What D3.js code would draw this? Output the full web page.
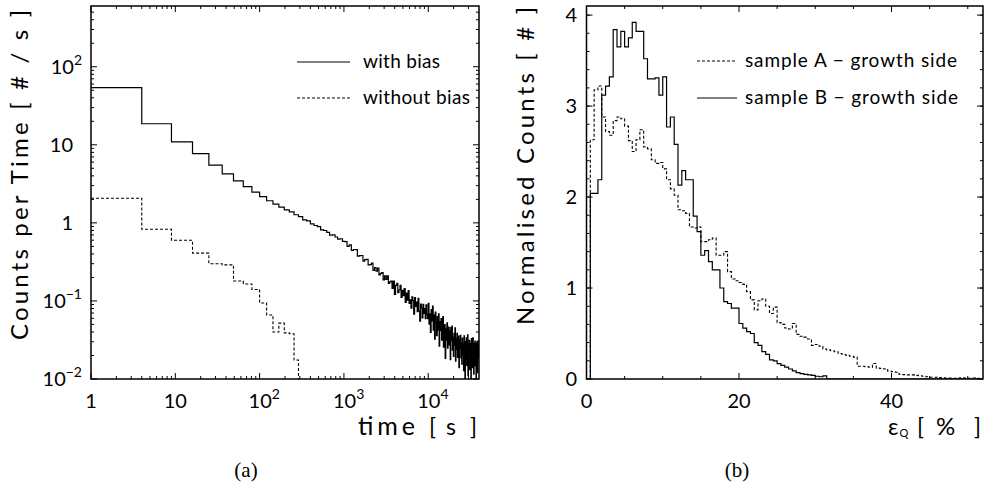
<!DOCTYPE html>
<html>
<head>
<meta charset="utf-8">
<script src="https://cdn.jsdelivr.net/npm/d3@7"></script>
<style>
body { margin: 0; background: #fff; }
text { font-family: Lato, "DejaVu Sans", sans-serif; fill: #000; }
</style>
</head>
<body>
<script>
// (a) counts per time, one value per bin [k^2, (k+1)^2] s, k = 1..199
var biasRate = [54, 18.6, 10.9, 7.7, 5.5, 4.25, 3.45, 2.92, 2.47, 2.17, 1.92, 1.74, 1.59, 1.47, 1.38, 1.27,
  1.20, 1.09, 1.06, 0.97, 0.925, 0.894, 0.814, 0.799, 0.754, 0.698, 0.702, 0.659, 0.619, 0.626, 0.579,
  0.575, 0.501, 0.523, 0.444, 0.456, 0.455, 0.376, 0.381, 0.382, 0.323, 0.339, 0.340, 0.289, 0.292, 0.305,
  0.247, 0.268, 0.241, 0.263, 0.216, 0.226, 0.231, 0.186, 0.210, 0.189, 0.209, 0.168, 0.175, 0.180,
  0.145, 0.179, 0.121, 0.158, 0.168, 0.128, 0.138, 0.158, 0.111, 0.137, 0.117, 0.144, 0.0961, 0.126, 0.102,
  0.136, 0.0933, 0.103, 0.0808, 0.113, 0.101, 0.0678, 0.110, 0.0854, 0.0967, 0.0731, 0.108, 0.0742, 0.0549,
  0.0909, 0.0812, 0.0606, 0.0905, 0.0691, 0.0799, 0.0594, 0.0891, 0.0672, 0.0594,
  0.0934, 0.0505, 0.0681, 0.0395, 0.0775, 0.0555, 0.0860, 0.0422, 0.0662, 0.0325, 0.0720, 0.0523, 0.0360,
  0.0631, 0.0422, 0.0683, 0.0263, 0.0542, 0.0417, 0.0592, 0.0314, 0.0463, 0.0628, 0.0256, 0.0399, 0.0496,
  0.0183, 0.0440, 0.0315, 0.0524, 0.0248, 0.0376, 0.0463, 0.0274, 0.0414, 0.0177, 0.0454, 0.0310, 0.0475,
  0.0234, 0.0345, 0.0195, 0.0384, 0.0269, 0.0451, 0.0169, 0.0333, 0.0239, 0.0384, 0.0189, 0.0287, 0.0354,
  0.0140, 0.0317, 0.0245, 0.0363, 0.0186, 0.0288, 0.0155,
  0.0335, 0.0206, 0.0282, 0.0128, 0.0356, 0.0228, 0, 0.0301, 0.0175, 0.0336, 0.0149, 0.0246, 0.0368, 0.0110,
  0.0279, 0.0206, 0.0313, 0.0132, 0.0287, 0.0226, 0.0095, 0.0330, 0.0176, 0.0257, 0.0140, 0.0336, 0.0208,
  0.0115, 0.0286, 0.0182, 0.0306, 0.0147, 0.0236, 0, 0.0290, 0.0155, 0.0265, 0.0121, 0.0307, 0.0185, 0.0238];
var noBiasRate = [2.07, 0.83, 0.60, 0.41, 0.30, 0.29, 0.18, 0.165, 0.14, 0.094, 0.066, 0.040, 0.052, 0.039, 0.038, 0.0175];

// (b) normalised counts, bins of 0.5 % starting at 0
var sampleA = [0, 2.63, 3.18, 3.22, 2.88, 2.72, 2.68, 2.84, 2.88, 2.86,
  2.78, 2.62, 2.5, 2.63, 2.74, 2.55, 2.53, 2.41, 2.37, 2.38,
  2.31, 2.19, 2.09, 2.02, 1.86, 1.85, 1.82, 1.67, 1.66, 1.67,
  1.51, 1.51, 1.53, 1.55, 1.36, 1.36, 1.40, 1.18, 1.10, 1.08,
  1.06, 1.04, 0.96, 0.87, 0.76, 0.86, 0.88, 0.80, 0.72, 0.79,
  0.62, 0.60, 0.56, 0.55, 0.61, 0.49, 0.47, 0.46, 0.44, 0.37,
  0.38, 0.36, 0.33, 0.32, 0.31, 0.30, 0.28, 0.27, 0.26, 0.25,
  0.24, 0.14, 0.14, 0.135, 0.13, 0.17, 0.12, 0.115, 0.11, 0.085,
  0.08, 0.075, 0.05, 0.048, 0.045, 0.045, 0.04, 0.035, 0.03, 0.025,
  0.02, 0.02, 0.015, 0.012, 0.01, 0.01, 0.008, 0.01, 0.012, 0.01,
  0.008, 0.01, 0.008, 0.005];
var sampleB = [0, 2.04, 2.04, 2.19, 3.12, 3.22, 3.32, 3.84, 3.65, 3.82,
  3.65, 3.75, 3.92, 3.82, 3.82, 3.52, 3.30, 3.30, 3.31, 3.12,
  3.32, 2.77, 2.88, 2.58, 2.13, 2.29, 2.19, 2.19, 1.79, 1.62,
  1.36, 1.41, 1.29, 1.20, 1.20, 1.00, 0.85, 0.83, 0.78, 0.78,
  0.61, 0.56, 0.52, 0.50, 0.40, 0.37, 0.30, 0.27, 0.21, 0.20,
  0.17, 0.15, 0.13, 0.11, 0.09, 0.07, 0.06, 0.05, 0.045, 0.04,
  0.03, 0.025, 0.035];

var timeTicks = [1, 10, 100, 1000, 10000];
var rateTicks = [0.01, 0.1, 1, 10, 100];
var epsTicks = [0, 20, 40];
var normTicks = [0, 1, 2, 3, 4];

var timeEdges = d3.range(1, biasRate.length + 2).map(function(k){ return k * k; });
var epsEdges = d3.range(0, sampleA.length + 1).map(function(i){ return i * 0.5; });

var svg = d3.select("body").append("svg")
    .attr("width", 985)
    .attr("height", 502);

var boxA = {x0: 91, x1: 479, y0: 6, y1: 379};
var boxB = {x0: 586.5, x1: 983, y0: 6, y1: 379};

var xTime = d3.scaleLog().domain([1, 40000]).range([boxA.x0, boxA.x1]);
var yRate = d3.scaleLog().domain([0.01, 600]).range([boxA.y1, boxA.y0]).clamp(true);
var xEps = d3.scaleLinear().domain([0, 52]).range([boxB.x0, boxB.x1]);
var yNorm = d3.scaleLinear().domain([0, 4.1]).range([boxB.y1, boxB.y0]);

function stepPoints(edges, vals, xs, ys, floor) {
  var pts = [];
  for (var i = 0; i < vals.length; i++) {
    var v = Math.max(vals[i], floor);
    pts.push([xs(edges[i]), ys(v)]);
    pts.push([xs(edges[i + 1]), ys(v)]);
  }
  return pts;
}

function clip(id, b) {
  svg.append("clipPath").attr("id", id)
    .append("rect")
    .attr("x", b.x0).attr("y", b.y0)
    .attr("width", b.x1 - b.x0).attr("height", b.y1 - b.y0);
}
clip("clipA", boxA);
clip("clipB", boxB);

var line = d3.line();

// ---- panel (a)
var gA = svg.append("g").attr("clip-path", "url(#clipA)");

gA.append("path")
  .attr("d", line(stepPoints(timeEdges, biasRate, xTime, yRate, 0.001)))
  .attr("fill", "none")
  .attr("stroke", "#000")
  .attr("stroke-width", 1.2);

var nb = stepPoints(timeEdges, noBiasRate, xTime, yRate, 0.001);
nb.push([xTime(timeEdges[noBiasRate.length]), boxA.y1]);
gA.append("path")
  .attr("d", line(nb))
  .attr("fill", "none")
  .attr("stroke", "#000")
  .attr("stroke-width", 1.1)
  .attr("stroke-dasharray", "3,2");

// ---- panel (b)
var gB = svg.append("g").attr("clip-path", "url(#clipB)");

gB.append("path")
  .attr("d", line(stepPoints(epsEdges, sampleA, xEps, yNorm, 0)))
  .attr("fill", "none")
  .attr("stroke", "#000")
  .attr("stroke-width", 1.1)
  .attr("stroke-dasharray", "3,2");

var pb = stepPoints(epsEdges, sampleB, xEps, yNorm, 0);
pb.push([xEps(epsEdges[sampleB.length]), yNorm(0)]);
pb.push([xEps(52), yNorm(0)]);
gB.append("path")
  .attr("d", line(pb))
  .attr("fill", "none")
  .attr("stroke", "#000")
  .attr("stroke-width", 1.2);

// ---- frames and ticks
function frame(b) {
  svg.append("rect")
    .attr("x", b.x0).attr("y", b.y0)
    .attr("width", b.x1 - b.x0).attr("height", b.y1 - b.y0)
    .attr("fill", "none")
    .attr("stroke", "#000")
    .attr("stroke-width", 1.5);
}

function ticks(b, xs, xMajor, xMinor, ys, yMajor, yMinor) {
  var g = svg.append("g").attr("stroke", "#000").attr("stroke-width", 1);
  function xt(vals, len) {
    vals.forEach(function(v){
      var x = xs(v);
      g.append("line").attr("x1", x).attr("x2", x).attr("y1", b.y1).attr("y2", b.y1 - len);
      g.append("line").attr("x1", x).attr("x2", x).attr("y1", b.y0).attr("y2", b.y0 + len);
    });
  }
  function yt(vals, len) {
    vals.forEach(function(v){
      var y = ys(v);
      g.append("line").attr("x1", b.x0).attr("x2", b.x0 + len).attr("y1", y).attr("y2", y);
      g.append("line").attr("x1", b.x1).attr("x2", b.x1 - len).attr("y1", y).attr("y2", y);
    });
  }
  xt(xMajor, 6); xt(xMinor, 3);
  yt(yMajor, 6); yt(yMinor, 3);
}

function logMinor(lo, hi) {
  var out = [];
  for (var d = lo; d < hi; d *= 10) {
    for (var m = 2; m <= 9; m++) {
      if (d * m < hi) out.push(d * m);
    }
  }
  return out;
}

frame(boxA);
frame(boxB);
ticks(boxA, xTime, timeTicks, logMinor(1, 40000), yRate, rateTicks, logMinor(0.01, 600));
ticks(boxB, xEps, epsTicks, d3.range(5, 52, 5).filter(function(v){ return v % 20 != 0; }),
  yNorm, normTicks, d3.range(0.2, 4.1, 0.2));

// ---- tick labels
function powText(x, y, p, anchor) {
  var t = svg.append("text")
    .attr("x", x).attr("y", y)
    .attr("font-size", 20)
    .attr("text-anchor", anchor);
  if (p == 0) { t.text("1"); return t; }
  t.append("tspan").text("10");
  if (p != 1) {
    t.append("tspan").attr("dy", -9).attr("font-size", 14)
      .text(p < 0 ? "\u2212" + (-p) : p);
  }
  return t;
}

rateTicks.forEach(function(v){
  var p = Math.round(Math.log10(v));
  if (p == 0 || p == 1) powText(73, yRate(v) + 7, p, "end");
  else powText(82, yRate(v) + 7, p, "end");
});

timeTicks.forEach(function(v){
  var p = Math.round(Math.log10(v));
  var x = xTime(v);
  if (p <= 1) powText(x, 408, p, "middle");
  else powText(x - 11, 408, p, "start");
});

normTicks.forEach(function(v){
  svg.append("text")
    .attr("x", 577).attr("y", yNorm(v) + 7)
    .attr("font-size", 20)
    .attr("text-anchor", "end")
    .text(v);
});

epsTicks.forEach(function(v){
  svg.append("text")
    .attr("x", xEps(v)).attr("y", 408)
    .attr("font-size", 20)
    .attr("text-anchor", "middle")
    .text(v);
});

// ---- axis titles
svg.append("text")
  .attr("transform", "translate(28,10) rotate(-90)")
  .attr("font-size", 24)
  .attr("text-anchor", "end")
  .attr("textLength", 330)
  .attr("lengthAdjust", "spacing")
  .text("Counts per Time [ # / s ]");

svg.append("text")
  .attr("transform", "translate(534,7) rotate(-90)")
  .attr("font-size", 24)
  .attr("text-anchor", "end")
  .attr("textLength", 318)
  .attr("lengthAdjust", "spacing")
  .text("Normalised Counts [ # ]");

// x titles set piece by piece, the source spreads its brackets wide
function piece(x, y, s, size) {
  return svg.append("text")
    .attr("x", x).attr("y", y)
    .attr("font-size", size || 23)
    .text(s);
}
piece(358, 435, "time", 25).attr("textLength", 57).attr("lengthAdjust", "spacing");
piece(429, 435, "[");
piece(446, 435, "s");
piece(470, 435, "]");

var et = piece(888, 435, "\u03b5");
et.append("tspan").attr("font-size", 11).attr("dy", 2).attr("dx", 1).text("Q");
piece(917, 435, "[");
piece(936, 435, "%", 24);
piece(974, 435, "]");

// ---- panel letters
svg.append("text")
  .attr("x", 246).attr("y", 477)
  .attr("font-size", 21)
  .attr("text-anchor", "middle")
  .style("font-family", "'Liberation Serif', 'DejaVu Serif', serif")
  .text("(a)");
svg.append("text")
  .attr("x", 737).attr("y", 477)
  .attr("font-size", 21)
  .attr("text-anchor", "middle")
  .style("font-family", "'Liberation Serif', 'DejaVu Serif', serif")
  .text("(b)");

// ---- legends
function legendRow(x1, x2, y, dashed, label, tx, len) {
  svg.append("line")
    .attr("x1", x1).attr("x2", x2).attr("y1", y).attr("y2", y)
    .attr("stroke", "#000")
    .attr("stroke-width", 1.1)
    .attr("stroke-dasharray", dashed ? "3,2" : null);
  svg.append("text")
    .attr("x", tx).attr("y", y + 6)
    .attr("font-size", 19)
    .attr("textLength", len)
    .attr("lengthAdjust", "spacing")
    .text(label);
}
legendRow(297, 350, 62, false, "with bias", 363, 77);
legendRow(297, 350, 98, true, "without bias", 363, 107);
legendRow(697, 737, 61, true, "sample A \u2212 growth side", 745, 212);
legendRow(697, 737, 98, false, "sample B \u2212 growth side", 745, 213);
</script>
</body>
</html>
